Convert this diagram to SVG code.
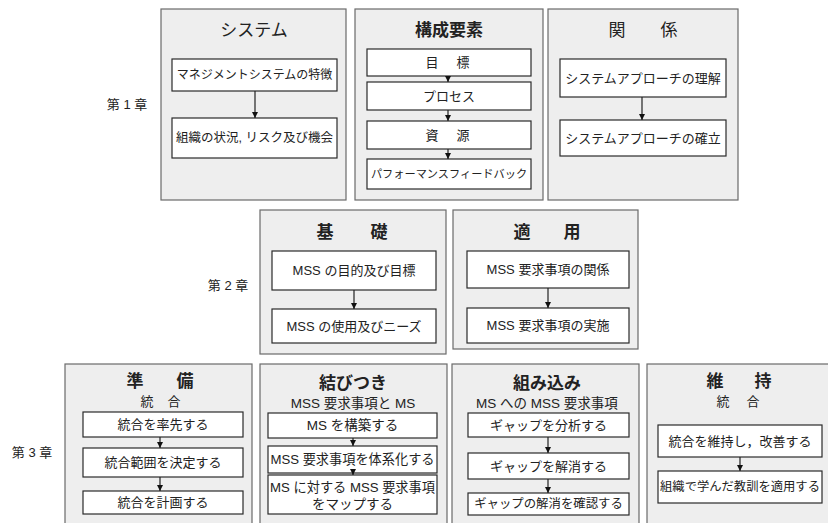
<svg xmlns="http://www.w3.org/2000/svg" width="828" height="523" viewBox="0 0 828 523">
<defs>
<marker id="ah" markerUnits="userSpaceOnUse" markerWidth="7" markerHeight="7" refX="6" refY="3" orient="auto"><path d="M0,0 L6,3 L0,6 z" fill="#111"/></marker>
<style>
text{font-family:"Liberation Sans","Noto Sans CJK JP",sans-serif;fill:#222;text-anchor:middle;dominant-baseline:central}
.grp{fill:#eeeeee;stroke:#6a6a6a;stroke-width:1.2}
.box{fill:#ffffff;stroke:#2a2a2a;stroke-width:1.2}
.t{font-size:17px}
.tb{font-size:17px;font-weight:bold}
.s{font-size:13.5px}
.n{font-size:13px}
.ch{font-size:13px}
.c{stroke:#222;stroke-width:1.2;fill:none;marker-end:url(#ah)}
</style>
</defs>
<rect width="828" height="523" fill="#ffffff"/>

<g id="chapters">
<text class="ch" x="127" y="104">第 1 章</text>
<text class="ch" x="228" y="285">第 2 章</text>
<text class="ch" x="32" y="452">第 3 章</text>
</g>

<g id="g-system">
<rect class="grp" x="161" y="9" width="185" height="191"/>
<text class="t" x="254" y="30">システム</text>
<rect class="box" x="172" y="59" width="165" height="32"/>
<text class="n" x="254.5" y="75" style="font-size:12px">マネジメントシステムの特徴</text>
<rect class="box" x="172" y="118" width="165" height="40"/>
<text class="n" x="254.5" y="138" style="font-size:12.5px">組織の状況, リスク及び機会</text>
</g>

<g id="g-elements">
<rect class="grp" x="355" y="9" width="188" height="191"/>
<text class="tb" x="449" y="30">構成要素</text>
<rect class="box" x="367" y="49" width="164" height="27"/>
<text class="n" x="432 463" y="62.5">目標</text>
<rect class="box" x="367" y="82" width="164" height="28"/>
<text class="n" x="449" y="96">プロセス</text>
<rect class="box" x="367" y="121" width="164" height="28"/>
<text class="n" x="432 463" y="135">資源</text>
<rect class="box" x="367" y="159" width="164" height="30"/>
<text class="n" x="449" y="174" style="font-size:11.2px">パフォーマンスフィードバック</text>
</g>

<g id="g-relation">
<rect class="grp" x="548" y="9" width="190" height="191"/>
<text class="t" x="617 669" y="30">関係</text>
<rect class="box" x="560" y="59" width="166" height="38"/>
<text class="n" x="643" y="78">システムアプローチの理解</text>
<rect class="box" x="560" y="120" width="166" height="36"/>
<text class="n" x="643" y="138">システムアプローチの確立</text>
</g>

<g id="g-basis">
<rect class="grp" x="260" y="210" width="186" height="144"/>
<text class="tb" x="325 379" y="232">基礎</text>
<rect class="box" x="272" y="251" width="164" height="39"/>
<text class="n" x="354" y="270.5">MSS の目的及び目標</text>
<rect class="box" x="272" y="309" width="164" height="34"/>
<text class="n" x="354" y="326">MSS の使用及びニーズ</text>
</g>

<g id="g-apply">
<rect class="grp" x="453" y="210" width="185" height="139"/>
<text class="tb" x="522 572" y="232">適用</text>
<rect class="box" x="467" y="251" width="162" height="37"/>
<text class="n" x="548" y="269.5">MSS 要求事項の関係</text>
<rect class="box" x="467" y="308" width="162" height="35"/>
<text class="n" x="548" y="325.5">MSS 要求事項の実施</text>
</g>

<g id="g-prepare">
<rect class="grp" x="65" y="364" width="187" height="170"/>
<text class="tb" x="135 185" y="381">準備</text>
<text class="n" x="147 174" y="401">統合</text>
<rect class="box" x="83" y="412" width="160" height="25"/>
<text class="n" x="163" y="424.5">統合を率先する</text>
<rect class="box" x="83" y="448" width="160" height="29"/>
<text class="n" x="163" y="462.5">統合範囲を決定する</text>
<rect class="box" x="83" y="491" width="160" height="23"/>
<text class="n" x="163" y="502.5">統合を計画する</text>
</g>

<g id="g-link">
<rect class="grp" x="260" y="364" width="187" height="170"/>
<text class="tb" x="353" y="383">結びつき</text>
<text class="s" x="353" y="403">MSS 要求事項と MS</text>
<rect class="box" x="268" y="413" width="169" height="25"/>
<text class="s" x="352.5" y="425.5">MS を構築する</text>
<rect class="box" x="268" y="446" width="169" height="27"/>
<text class="s" x="352.5" y="459.5" style="font-size:13.2px">MSS 要求事項を体系化する</text>
<rect class="box" x="268" y="475" width="169" height="39"/>
<text class="s" x="352.5" y="487.5" style="font-size:13.2px">MS に対する MSS 要求事項</text>
<text class="s" x="352.5" y="504">をマップする</text>
</g>

<g id="g-embed">
<rect class="grp" x="452" y="364" width="187" height="170"/>
<text class="tb" x="547" y="383">組み込み</text>
<text class="s" x="547" y="403">MS への MSS 要求事項</text>
<rect class="box" x="468" y="413" width="161" height="24"/>
<text class="n" x="548.5" y="425">ギャップを分析する</text>
<rect class="box" x="468" y="453" width="161" height="26"/>
<text class="n" x="548.5" y="466">ギャップを解消する</text>
<rect class="box" x="468" y="493" width="161" height="22"/>
<text class="n" x="548.5" y="504" style="font-size:12.4px">ギャップの解消を確認する</text>
</g>

<g id="g-maintain">
<rect class="grp" x="647" y="364" width="186" height="170"/>
<text class="tb" x="715 763" y="381">維持</text>
<text class="n" x="723 753" y="401">統合</text>
<rect class="box" x="658" y="425" width="164" height="32"/>
<text class="n" x="740" y="441">統合を維持し，改善する</text>
<rect class="box" x="658" y="471" width="164" height="32"/>
<text class="n" x="740" y="487" style="font-size:12.3px">組織で学んだ教訓を適用する</text>
</g>

<g id="connectors">
<line class="c" x1="255" y1="91" x2="255" y2="118"/>
<line class="c" x1="448" y1="76" x2="448" y2="82"/>
<line class="c" x1="448" y1="110" x2="448" y2="121"/>
<line class="c" x1="448" y1="149" x2="448" y2="159"/>
<line class="c" x1="642" y1="97" x2="642" y2="120"/>
<line class="c" x1="354" y1="290" x2="354" y2="309"/>
<line class="c" x1="548" y1="288" x2="548" y2="308"/>
<line class="c" x1="160" y1="437" x2="160" y2="448"/>
<line class="c" x1="160" y1="477" x2="160" y2="491"/>
<line class="c" x1="353" y1="438" x2="353" y2="446"/>
<line class="c" x1="353" y1="473" x2="353" y2="475"/>
<line class="c" x1="548" y1="437" x2="548" y2="453"/>
<line class="c" x1="548" y1="479" x2="548" y2="493"/>
<line class="c" x1="740" y1="457" x2="740" y2="471"/>
</g>
</svg>
